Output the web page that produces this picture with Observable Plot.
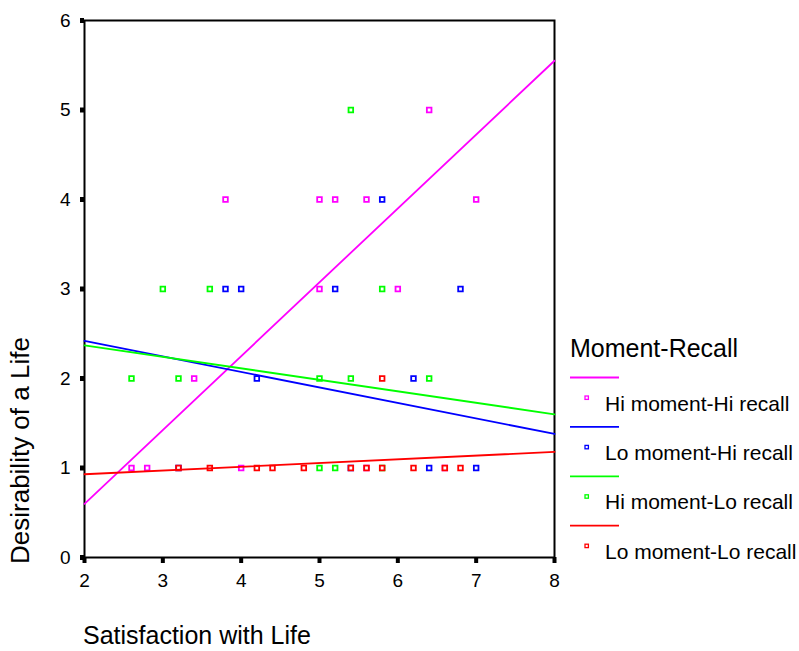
<!DOCTYPE html>
<html>
<head>
<meta charset="utf-8">
<script src="https://cdn.jsdelivr.net/npm/d3@7"></script>
<script src="https://cdn.jsdelivr.net/npm/@observablehq/plot@0.6"></script>
<style>
  html, body { margin: 0; padding: 0; background: #ffffff; }
  #chart { width: 799px; height: 651px; }
</style>
</head>
<body>
<div id="chart"></div>
<script>
// Groups, in legend order, with their colours
const groups = ["Hi moment-Hi recall", "Lo moment-Hi recall", "Hi moment-Lo recall", "Lo moment-Lo recall"];
const groupColors = ["#ff00ff", "#0000ff", "#00ff00", "#ff0000"];

// Axis ticks
const xTicks = [2, 3, 4, 5, 6, 7, 8];
const yTicks = [0, 1, 2, 3, 4, 5, 6];

// Observations: satisfaction (x) and desirability (y) for each group
const hiHiX = [6.4, 3.8, 5.0, 5.2, 5.6, 7.0, 5.0, 6.0, 3.4, 2.6, 2.8, 4.0, 5.6, 6.6];
const hiHiY = [5,   4,   4,   4,   4,   4,   3,   3,   2,   1,   1,   1,   1,   1];
const loHiX = [5.8, 3.8, 4.0, 5.2, 6.8, 4.2, 6.2, 6.4, 7.0, 5.4, 3.2];
const loHiY = [4,   3,   3,   3,   3,   2,   2,   1,   1,   1,   1];
const hiLoX = [5.4, 3.0, 3.6, 5.8, 2.6, 3.2, 5.0, 5.4, 6.4, 5.0, 5.2, 5.8];
const hiLoY = [5,   3,   3,   3,   2,   2,   2,   2,   2,   1,   1,   1];
const loLoX = [5.8, 3.2, 3.6, 4.2, 4.4, 4.8, 5.4, 5.6, 5.8, 6.2, 6.6, 6.8];
const loLoY = [2,   1,   1,   1,   1,   1,   1,   1,   1,   1,   1,   1];

// Fitted linear trends, evaluated at both ends of the x range
const fitX = [2, 8];
const fitHiHi = [0.60, 5.55];
const fitLoHi = [2.42, 1.38];
const fitHiLo = [2.37, 1.60];
const fitLoLo = [0.93, 1.18];

const seriesX = [hiHiX, loHiX, hiLoX, loLoX];
const seriesY = [hiHiY, loHiY, hiLoY, loLoY];
const fits = [fitHiHi, fitLoHi, fitHiLo, fitLoLo];

const points = groups.flatMap((g, i) => seriesX[i].map((x, j) => ({group: g, x, y: seriesY[i][j]})));
const fitRows = groups.flatMap((g, i) => fitX.map((x, j) => ({group: g, x, y: fits[i][j]})));

const font = "'Liberation Sans', Arial, sans-serif";

const chart = Plot.plot({
  width: 799,
  height: 651,
  marginLeft: 84,
  marginRight: 245,
  marginTop: 20,
  marginBottom: 94,
  x: {domain: [2, 8]},
  y: {domain: [0, 6]},
  color: {domain: groups, range: groupColors},
  style: {fontFamily: font, background: "#ffffff", color: "#000000"},
  marks: [
    Plot.axisX({ticks: xTicks, tickFormat: d3.format("d"), tickSize: 6, strokeWidth: 4, tickPadding: 10, fontSize: 19, label: null, color: "#000"}),
    Plot.axisY({ticks: yTicks, tickFormat: d3.format("d"), tickSize: 4, strokeWidth: 5, tickPadding: 10, fontSize: 19, label: null, color: "#000"}),
    Plot.frame({stroke: "#000", strokeWidth: 2}),
    Plot.dot(points, {x: "x", y: "y", stroke: "group", fill: "#ffffff", symbol: "square", r: 2.6, strokeWidth: 1.8}),
    Plot.line(fitRows, {x: "x", y: "y", z: "group", stroke: "group", strokeWidth: 1.8})
  ]
});

document.getElementById("chart").appendChild(chart);

// Axis titles and the legend, placed in the free space of the same SVG
const svg = d3.select(chart);

const addText = (sel, str, size) => sel.append("text")
  .attr("font-family", font).attr("font-size", size).attr("fill", "#000")
  .attr("text-anchor", "start")
  .text(str);

addText(svg, "Satisfaction with Life", 25).attr("x", 83).attr("y", 644);
addText(svg, "Desirability of a Life", 26).attr("transform", "translate(29,564) rotate(-90)");

const legend = svg.append("g");
addText(legend, "Moment-Recall", 25).attr("x", 570).attr("y", 357);

groups.forEach((g, i) => {
  const top = 377.5 + i * 49.4;
  legend.append("line")
    .attr("x1", 570).attr("x2", 619).attr("y1", top).attr("y2", top)
    .attr("stroke", groupColors[i]).attr("stroke-width", 1.8);
  legend.append("rect")
    .attr("x", 585).attr("y", top + 18.5).attr("width", 3.4).attr("height", 3.4)
    .attr("fill", "#fff").attr("stroke", groupColors[i]).attr("stroke-width", 1.3);
  addText(legend, g, 21).attr("x", 605).attr("y", top + 33);
});
</script>
</body>
</html>
